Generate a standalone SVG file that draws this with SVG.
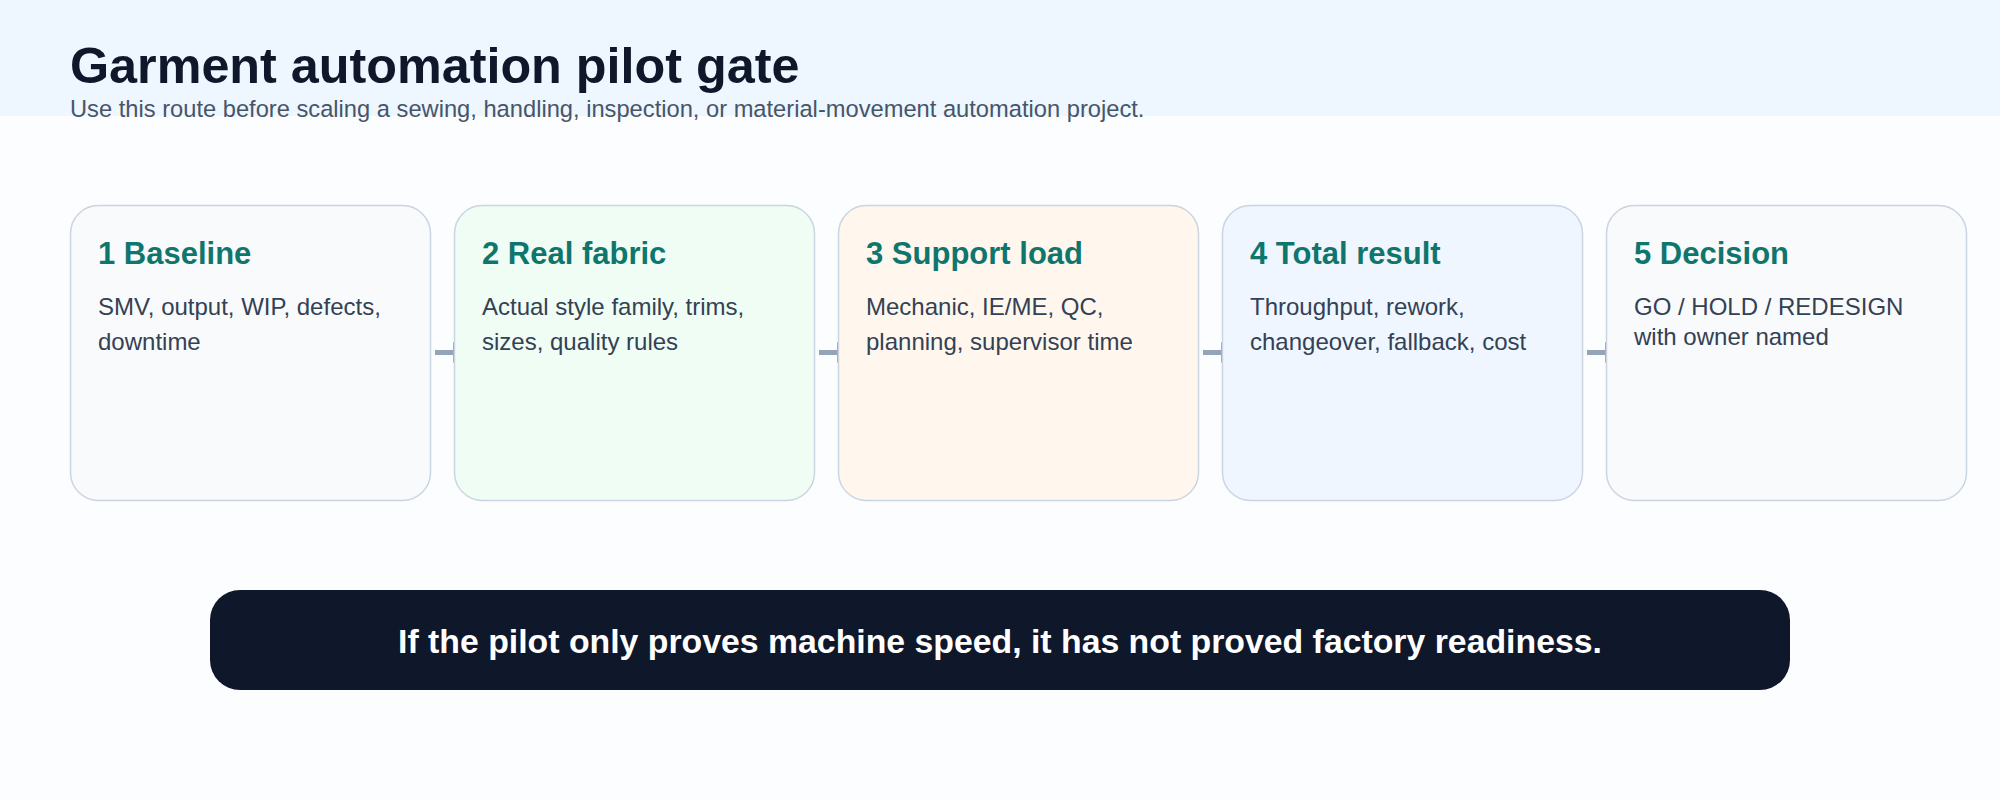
<svg xmlns="http://www.w3.org/2000/svg" width="2000" height="800" viewBox="0 0 2000 800">
<defs>
<style>
.card{stroke:#cbd5e1;stroke-width:1.5}
.h{font-family:"Liberation Sans",Arial,sans-serif;font-weight:700;font-size:31px;fill:#0f766e}
.b{font-family:"Liberation Sans",Arial,sans-serif;font-size:24px;fill:#334155}
.conn{stroke:#94a3b8;stroke-width:5;fill:none}
</style>
<marker id="arr" markerUnits="userSpaceOnUse" markerWidth="16" markerHeight="22" refX="0" refY="10.5" orient="auto">
<path d="M0,0 L14,10.5 L0,21 z" fill="#94a3b8"/>
</marker>
</defs>
<rect x="0" y="0" width="2000" height="800" fill="#fbfdff"/>
<rect x="0" y="0" width="2000" height="116" fill="#eef7ff"/>
<g id="header">
<text x="70" y="83" font-family="'Liberation Sans',Arial,sans-serif" font-weight="700" font-size="50.3" fill="#0f172a">Garment automation pilot gate</text>
<text x="70" y="117" font-family="'Liberation Sans',Arial,sans-serif" font-size="23.7" fill="#475569">Use this route before scaling a sewing, handling, inspection, or material-movement automation project.</text>
</g>
<g id="connectors">
<line class="conn" x1="435" y1="352.5" x2="453" y2="352.5" marker-end="url(#arr)"/>
<line class="conn" x1="819" y1="352.5" x2="837" y2="352.5" marker-end="url(#arr)"/>
<line class="conn" x1="1203" y1="352.5" x2="1221" y2="352.5" marker-end="url(#arr)"/>
<line class="conn" x1="1587" y1="352.5" x2="1605" y2="352.5" marker-end="url(#arr)"/>
</g>
<g id="node1">
<rect class="card" x="70.5" y="205.5" width="360" height="295" rx="28" fill="#f9fafb"/>
<text class="h" x="98" y="264">1 Baseline</text>
<text class="b" x="98" y="315">SMV, output, WIP, defects,</text>
<text class="b" x="98" y="350">downtime</text>
</g>
<g id="node2">
<rect class="card" x="454.5" y="205.5" width="360" height="295" rx="28" fill="#f0fdf4"/>
<text class="h" x="482" y="264">2 Real fabric</text>
<text class="b" x="482" y="315">Actual style family, trims,</text>
<text class="b" x="482" y="350">sizes, quality rules</text>
</g>
<g id="node3">
<rect class="card" x="838.5" y="205.5" width="360" height="295" rx="28" fill="#fff7ed"/>
<text class="h" x="866" y="264">3 Support load</text>
<text class="b" x="866" y="315">Mechanic, IE/ME, QC,</text>
<text class="b" x="866" y="350">planning, supervisor time</text>
</g>
<g id="node4">
<rect class="card" x="1222.5" y="205.5" width="360" height="295" rx="28" fill="#eff6ff"/>
<text class="h" x="1250" y="264">4 Total result</text>
<text class="b" x="1250" y="315">Throughput, rework,</text>
<text class="b" x="1250" y="350">changeover, fallback, cost</text>
</g>
<g id="node5">
<rect class="card" x="1606.5" y="205.5" width="360" height="295" rx="28" fill="#f9fafb"/>
<text class="h" x="1634" y="264">5 Decision</text>
<text class="b" x="1634" y="315">GO / HOLD / REDESIGN</text>
<text class="b" x="1634" y="345">with owner named</text>
</g>
<g id="banner">
<rect x="210" y="590" width="1580" height="100" rx="30" fill="#0f172a"/>
<text x="1000" y="653" text-anchor="middle" font-family="'Liberation Sans',Arial,sans-serif" font-weight="700" font-size="33.8" fill="#ffffff">If the pilot only proves machine speed, it has not proved factory readiness.</text>
</g>
</svg>
